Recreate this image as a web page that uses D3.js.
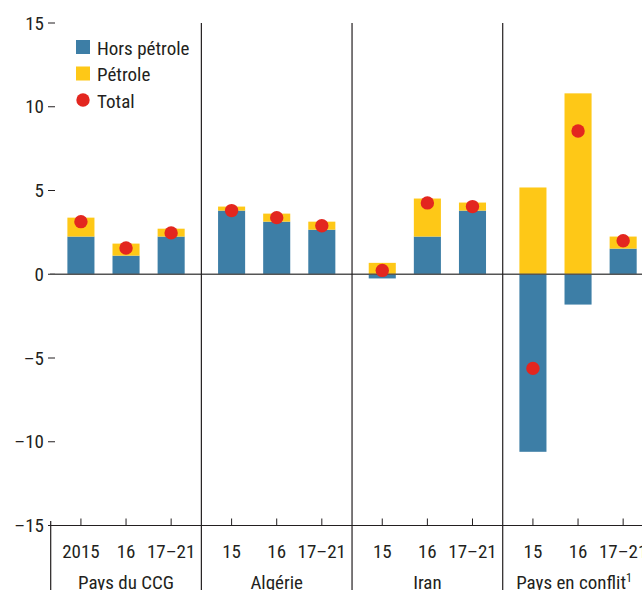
<!DOCTYPE html>
<html>
<head>
<meta charset="utf-8">
<script src="https://cdn.jsdelivr.net/npm/d3@7"></script>
<style>
  body { margin: 0; background: #fff; }
  svg text { font-family: "Liberation Sans Narrow", "Arial Narrow", "Roboto Condensed", sans-serif; fill: #231f20; }
</style>
</head>
<body>
<div id="chart"></div>
<script>
// Country groups and period labels
const groups = ["Pays du CCG", "Algérie", "Iran", "Pays en conflit"];
const periods = [
  ["2015", "16", "17–21"],
  ["15", "16", "17–21"],
  ["15", "16", "17–21"],
  ["15", "16", "17–21"]
];

// Values, in group order, 3 periods per group
const horsPetrole = [2.25, 1.11, 2.25, 3.8, 3.14, 2.66, -0.25, 2.25, 3.8, -10.6, -1.81, 1.53];
const petrole = [1.13, 0.72, 0.47, 0.24, 0.48, 0.48, 0.68, 2.27, 0.48, 5.18, 10.8, 0.72];
const total = [3.14, 1.57, 2.47, 3.8, 3.38, 2.9, 0.23, 4.26, 4.04, -5.62, 8.55, 2.0];

const yTicks = [-15, -10, -5, 0, 5, 10, 15];

const colors = { hors: "#3d7ea6", petrole: "#fec817", total: "#e3261f" };

const W = 642, H = 590;
const svg = d3.select("#chart").append("svg").attr("width", W).attr("height", H);

const y = d3.scaleLinear().domain([-15, 15]).range([525.5, 23]);
const xGroup = d3.scaleBand().domain(groups).range([50.7, 50.7 + 4 * 150.67]);
const xPeriod = d3.scaleBand().domain([0, 1, 2]).range([0, xGroup.bandwidth()])
  .paddingInner(0.4).paddingOuter(0.37);

// rows for stacking
const rows = horsPetrole.map((h, i) => ({
  g: groups[Math.floor(i / 3)], p: i % 3, hors: h, petrole: petrole[i], total: total[i]
}));
const xPos = d => xGroup(d.g) + xPeriod(d.p);

const stack = d3.stack().keys(["hors", "petrole"]).offset(d3.stackOffsetDiverging);
const series = stack(rows);

// y ticks
svg.append("g").selectAll("line").data(yTicks).join("line")
  .attr("x1", 48).attr("x2", 55)
  .attr("y1", d => y(d)).attr("y2", d => y(d))
  .attr("stroke", "#231f20").attr("stroke-width", 1);
svg.append("g").selectAll("text").data(yTicks).join("text")
  .attr("x", 44).attr("y", d => y(d) + 6.5)
  .attr("text-anchor", "end").attr("font-size", 19)
  .text(d => d < 0 ? "–" + Math.abs(d) : d);

// bars
svg.append("g").selectAll("g").data(series).join("g")
  .attr("fill", s => colors[s.key])
  .selectAll("rect").data(s => s).join("rect")
  .attr("x", d => xPos(d.data))
  .attr("width", xPeriod.bandwidth())
  .attr("y", d => y(Math.max(d[0], d[1])))
  .attr("height", d => Math.abs(y(d[0]) - y(d[1])));

// zero line
svg.append("line")
  .attr("x1", 50).attr("x2", W).attr("y1", y(0)).attr("y2", y(0))
  .attr("stroke", "#555").attr("stroke-width", 1.6);

// total dots
svg.append("g").selectAll("circle").data(rows).join("circle")
  .attr("cx", d => xPos(d) + xPeriod.bandwidth() / 2)
  .attr("cy", d => y(d.total))
  .attr("r", 6.7)
  .attr("fill", colors.total);

// group separators
svg.append("g").selectAll("line").data(groups.slice(1)).join("line")
  .attr("x1", d => xGroup(d)).attr("x2", d => xGroup(d))
  .attr("y1", 23).attr("y2", H)
  .attr("stroke", "#231f20").attr("stroke-width", 1.2);
svg.append("line")
  .attr("x1", 50.7).attr("x2", 50.7).attr("y1", 521).attr("y2", H)
  .attr("stroke", "#231f20").attr("stroke-width", 1.2);

// bottom axis
svg.append("line")
  .attr("x1", 50).attr("x2", W).attr("y1", y(-15)).attr("y2", y(-15))
  .attr("stroke", "#231f20").attr("stroke-width", 1.2);
svg.append("g").selectAll("line").data(rows).join("line")
  .attr("x1", d => xPos(d) + xPeriod.bandwidth() / 2)
  .attr("x2", d => xPos(d) + xPeriod.bandwidth() / 2)
  .attr("y1", y(-15)).attr("y2", y(-15) - 7)
  .attr("stroke", "#231f20").attr("stroke-width", 1);

// period labels
svg.append("g").selectAll("text").data(rows).join("text")
  .attr("x", d => xPos(d) + xPeriod.bandwidth() / 2)
  .attr("y", 558)
  .attr("text-anchor", "middle").attr("font-size", 19)
  .text(d => periods[groups.indexOf(d.g)][d.p]);

// group labels
const gl = svg.append("g").selectAll("text").data(groups).join("text")
  .attr("x", d => xGroup(d) + xGroup.bandwidth() / 2 + (d === "Pays en conflit" ? -4 : 0))
  .attr("y", 588.5)
  .attr("text-anchor", "middle").attr("font-size", 19)
  .text(d => d);
gl.filter(d => d === "Pays en conflit").append("tspan")
  .attr("dy", -7).attr("font-size", 12).text("1");

// legend
const legend = [
  { label: "Hors pétrole", key: "hors", type: "rect" },
  { label: "Pétrole", key: "petrole", type: "rect" },
  { label: "Total", key: "total", type: "dot" }
];
const lg = svg.append("g").selectAll("g").data(legend).join("g")
  .attr("transform", (d, i) => `translate(76, ${47 + i * 26.5})`);
lg.filter(d => d.type === "rect").append("rect")
  .attr("x", 0).attr("y", -7).attr("width", 14).attr("height", 14)
  .attr("fill", d => colors[d.key]);
lg.filter(d => d.type === "dot").append("circle")
  .attr("cx", 7).attr("cy", 0).attr("r", 6.7)
  .attr("fill", colors.total);
lg.append("text")
  .attr("x", 21).attr("y", 7.5).attr("font-size", 19)
  .text(d => d.label);
</script>
</body>
</html>
